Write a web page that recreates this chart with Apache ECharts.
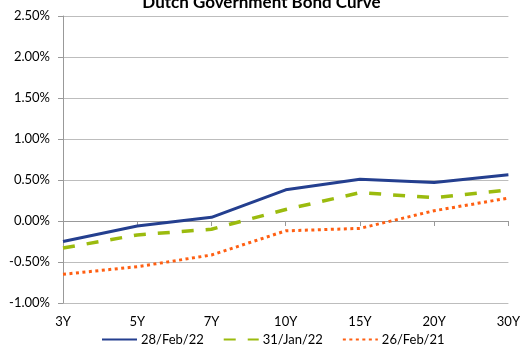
<!DOCTYPE html>
<html>
<head>
<meta charset="utf-8">
<script src="https://cdn.jsdelivr.net/npm/echarts@6/dist/echarts.min.js"></script>
<style>
  html, body { margin: 0; padding: 0; background: #fff; }
  #chart { width: 523px; height: 350px; }
</style>
</head>
<body>
<div id="chart"></div>
<script>
// Tenors along the curve
const tenors = ['3Y', '5Y', '7Y', '10Y', '15Y', '20Y', '30Y'];
// Yields in percent
const feb22 = [-0.25, -0.06, 0.045, 0.38, 0.51, 0.47, 0.565];
const jan22 = [-0.33, -0.17, -0.10, 0.14, 0.345, 0.285, 0.38];
const feb21 = [-0.65, -0.557, -0.415, -0.12, -0.09, 0.125, 0.28];

const seriesNames = ['28/Feb/22', '31/Jan/22', '26/Feb/21'];
const FONT = 'Lato, "Liberation Sans", sans-serif';

const chart = echarts.init(document.getElementById('chart'), null, { renderer: 'canvas' });

chart.setOption({
  animation: false,
  textStyle: { fontFamily: FONT, color: '#000' },
  title: {
    text: 'Dutch Government Bond Curve',
    left: 'center',
    top: -11,
    textStyle: { fontFamily: FONT, fontSize: 17, fontWeight: 'bold', color: '#000' }
  },
  grid: { left: 63, right: 9, top: 16, bottom: 47 },
  legend: {
    bottom: -1,
    left: 96,
    itemWidth: 35,
    itemHeight: 10,
    itemGap: 19,
    itemStyle: { opacity: 0 },
    textStyle: { fontFamily: FONT, fontSize: 13, color: '#000', padding: [0, 0, 0, -1] },
    data: seriesNames
  },
  xAxis: [
    {
      type: 'category',
      data: tenors,
      boundaryGap: false,
      position: 'bottom',
      axisLine: { show: false, onZero: false },
      axisTick: { show: false },
      axisLabel: { fontSize: 13, color: '#000', margin: 12, fontFamily: FONT }
    },
    {
      type: 'category',
      data: tenors,
      boundaryGap: false,
      position: 'bottom',
      axisLine: { show: true, onZero: true, lineStyle: { color: '#999', width: 1 } },
      axisTick: { show: true, length: 5, lineStyle: { color: '#999' } },
      axisLabel: { show: false }
    }
  ],
  yAxis: {
    type: 'value',
    min: -1,
    max: 2.5,
    interval: 0.5,
    axisLine: { show: true, lineStyle: { color: '#999' } },
    axisTick: { show: true, length: 5, lineStyle: { color: '#999' } },
    axisLabel: {
      fontSize: 13,
      color: '#000',
      margin: 13,
      fontFamily: FONT,
      formatter: v => v.toFixed(2) + '%'
    },
    splitLine: { show: true, lineStyle: { color: '#bdbdbd', width: 1 } }
  },
  series: [
    {
      name: seriesNames[0],
      type: 'line',
      data: feb22,
      symbol: 'none',
      color: '#243f8f',
      lineStyle: { width: 3, color: '#243f8f', type: 'solid' }
    },
    {
      name: seriesNames[1],
      type: 'line',
      data: jan22,
      symbol: 'none',
      color: '#9bbb0e',
      lineStyle: { width: 3.5, color: '#9bbb0e', type: [12, 12] }
    },
    {
      name: seriesNames[2],
      type: 'line',
      data: feb21,
      symbol: 'none',
      color: '#ff5f12',
      lineStyle: { width: 3, color: '#ff5f12', type: [3, 3.5] }
    }
  ]
});
</script>
</body>
</html>
